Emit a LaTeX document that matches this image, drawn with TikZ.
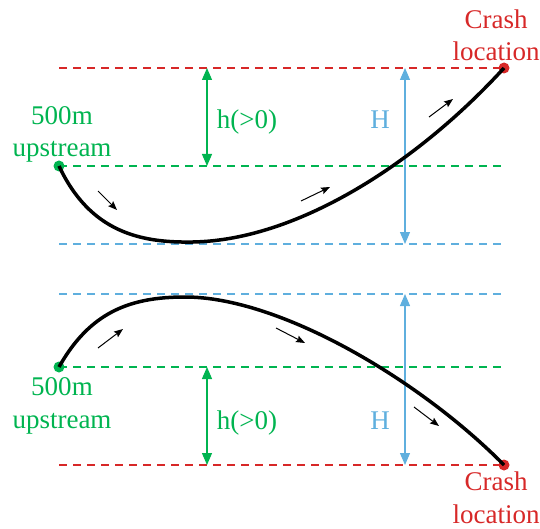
\documentclass[tikz,border=0pt]{standalone}
\usepackage{fontspec}
\setmainfont{Liberation Serif}
\usetikzlibrary{arrows.meta}
\definecolor{cred}{RGB}{215,40,40}
\definecolor{cgreen}{RGB}{0,180,80}
\definecolor{cblue}{RGB}{95,175,222}
\tikzset{
  guideline/.style={line width=1.3pt, dash pattern=on 8pt off 6pt, color=#1},
  dimarrow/.style={line width=1.2pt, color=#1, {Triangle[length=12pt,width=10pt]}-{Triangle[length=12pt,width=10pt]}},
  traj/.style={line width=3.5pt, draw=black},
  dirarrow/.style={line width=1pt, draw=black, -{Stealth[length=9pt,width=7pt,inset=1.5pt]}},
  dotnode/.style={circle, inner sep=0pt, minimum size=11pt, fill=#1},
  lbl/.style={font=\fontsize{27}{32.5}\selectfont, align=center, inner sep=0pt, text=#1},
}
\begin{document}
\begin{tikzpicture}[x=1pt,y=-1pt]
\useasboundingbox (0,0) rectangle (540,529);
% ---------- top panel ----------
\coordinate (tr1) at (59,68);  \coordinate (tr2) at (504,68);
\coordinate (tg1) at (59,166); \coordinate (tg2) at (504,166);
\coordinate (tb1) at (59,244); \coordinate (tb2) at (504,244);
\draw[guideline=cred]   (tr1) -- (tr2);
\draw[guideline=cgreen] (tg1) -- (tg2);
\draw[guideline=cblue]  (tb1) -- (tb2);
\coordinate (thA) at (207,68); \coordinate (thB) at (207,166);
\coordinate (tHA) at (405,68); \coordinate (tHB) at (405,244);
\draw[dimarrow=cgreen] (thA) -- (thB);
\draw[dimarrow=cblue] (tHA) -- (tHB);
\node[lbl=cgreen, anchor=base] (th) at (247,129) {h(>0)};
\node[lbl=cblue, anchor=base] (tH) at (380,129) {H};
\node[dotnode=cgreen] (ts) at (59,166) {};
\node[dotnode=cred] (te) at (504,68) {};
\draw[traj] (ts.center) .. controls (90,232) and (140,243) .. (193,242)
  .. controls (300,240) and (420,160) .. (te.center);
\coordinate (ta1s) at (98,191); \coordinate (ta1e) at (117,210);
\coordinate (ta2s) at (301,201); \coordinate (ta2e) at (330,187);
\coordinate (ta3s) at (429,117); \coordinate (ta3e) at (453,99);
\draw[dirarrow] (ta1s) -- (ta1e);
\draw[dirarrow] (ta2s) -- (ta2e);
\draw[dirarrow] (ta3s) -- (ta3e);
\node[lbl=cgreen, anchor=base] (tup) at (62,157) {500m\\upstream};
\node[lbl=cred, anchor=base] (tcr) at (496,61) {Crash\\location};
% ---------- bottom panel ----------
\coordinate (bb1) at (59,294); \coordinate (bb2) at (504,294);
\coordinate (bg1) at (59,367); \coordinate (bg2) at (504,367);
\coordinate (br1) at (59,465); \coordinate (br2) at (504,465);
\draw[guideline=cblue]  (bb1) -- (bb2);
\draw[guideline=cgreen] (bg1) -- (bg2);
\draw[guideline=cred]   (br1) -- (br2);
\coordinate (bhA) at (207,367); \coordinate (bhB) at (207,465);
\coordinate (bHA) at (405,294); \coordinate (bHB) at (405,465);
\draw[dimarrow=cgreen] (bhA) -- (bhB);
\draw[dimarrow=cblue] (bHA) -- (bHB);
\node[lbl=cgreen, anchor=base] (bh) at (247,429) {h(>0)};
\node[lbl=cblue, anchor=base] (bH) at (380,429) {H};
\node[dotnode=cgreen] (bs) at (59,367) {};
\node[dotnode=cred] (be) at (504,465) {};
\draw[traj] (bs.center) .. controls (90,312) and (130,297) .. (185,297)
  .. controls (280,297) and (420,380) .. (be.center);
\coordinate (ba1s) at (98,348); \coordinate (ba1e) at (123,329);
\coordinate (ba2s) at (276,328); \coordinate (ba2e) at (305,343);
\coordinate (ba3s) at (414,407); \coordinate (ba3e) at (439,426);
\draw[dirarrow] (ba1s) -- (ba1e);
\draw[dirarrow] (ba2s) -- (ba2e);
\draw[dirarrow] (ba3s) -- (ba3e);
\node[lbl=cgreen, anchor=base] (bup) at (62,428) {500m\\upstream};
\node[lbl=cred, anchor=base] (bcr) at (496,523) {Crash\\location};
\end{tikzpicture}
\end{document}
